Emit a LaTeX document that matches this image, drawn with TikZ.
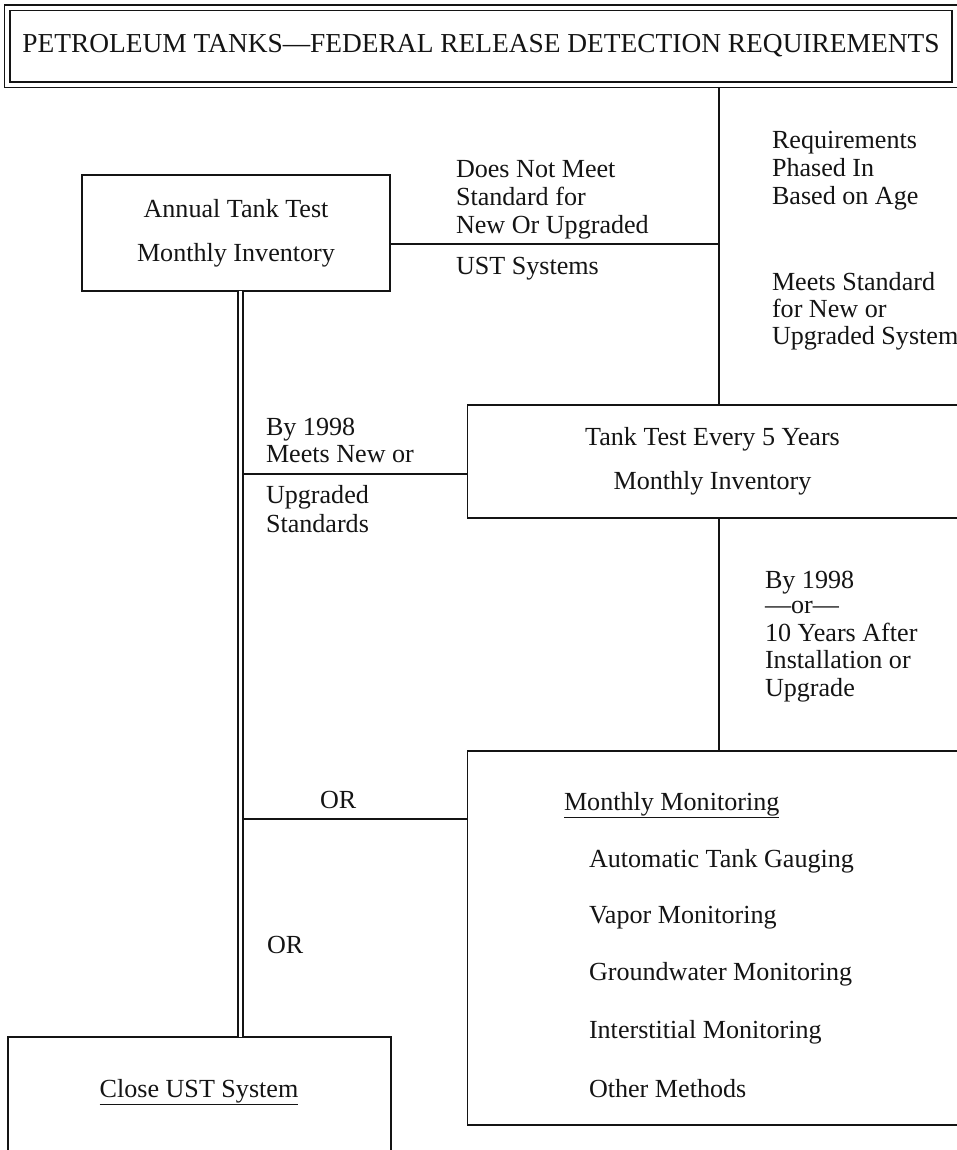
\documentclass[tikz,border=0pt]{standalone}
\usepackage{fontspec}
\setmainfont{Liberation Serif}
\usetikzlibrary{calc}
\definecolor{ink}{HTML}{141414}
\newcommand{\bodyfont}{\fontsize{26.2}{28}\selectfont}
\newcommand{\boxfont}{\fontsize{26.2}{44}\selectfont}
\newcommand{\titlefont}{\fontsize{27.5}{30}\selectfont}
\tikzset{
  every node/.style={font=\bodyfont,text=ink,inner sep=0pt,outer sep=0pt},
  panel/.style={draw=ink,line width=1.8bp,rectangle},
  frame/.style={draw=ink,double,double distance=4bp,line width=1.6bp},
  link/.style={draw=ink,line width=1.8bp},
  twin/.style={draw=ink,double,double distance=3.5bp,line width=1.4bp},
  note/.style={anchor=base west},
  boxtext/.style={align=center,font=\boxfont}
}

\begin{document}
\begin{tikzpicture}[x=1bp,y=-1bp]

\path[use as bounding box] (0,0) rectangle (957,1150);
% Header frame and the four boxes; right-hand boxes run off the page.
\node[frame,minimum width=947bp,minimum height=77bp,font=\titlefont] (title) at (481,46) {PETROLEUM TANKS—FEDERAL RELEASE DETECTION REQUIREMENTS};
\node[panel,boxtext,minimum width=308bp,minimum height=116bp] (annual) at (236,233) {Annual Tank Test\\Monthly Inventory};
\node[panel,boxtext,minimum width=490bp,minimum height=113bp] (tank) at (712.5,461.5) {Tank Test Every 5 Years\\Monthly Inventory};
\node[panel,minimum width=490bp,minimum height=374bp] (monitor) at (712.5,938) {};
\node[panel,minimum width=383bp,minimum height=140bp] (close) at (199.5,1107) {};

\coordinate (upper) at (719,244);
\coordinate (middle) at (240.5,474);
\coordinate (lower) at (240.5,819);

\draw[link] ($(title.south -| upper)+(0,3.5)$) -- (tank.north -| upper);
\draw[link] (annual.east |- upper) -- (upper);
\draw[link] (tank.south -| upper) -- (monitor.north -| upper);
\draw[link] (middle) -- (tank.west |- middle);
\draw[link] (lower) -- (monitor.west |- lower);
% The double line is drawn last so that it cuts the branches.
\draw[twin] (annual.south -| middle) -- (close.north -| middle);

\foreach \name/\y/\words in {dn1/177/Does Not Meet,dn2/205/Standard for,dn3/233/New Or Upgraded,dn4/274/UST Systems}
  \node[note] (\name) at (456,\y) {\words};
\foreach \name/\y/\words in {ph1/148/Requirements,ph2/176/Phased In,ph3/204/Based on Age,ms1/290/Meets Standard,ms2/317/for New or,ms3/344/Upgraded System}
  \node[note] (\name) at (772,\y) {\words};
\foreach \name/\y/\words in {by1/435/By 1998,by2/462/Meets New or,by3/503/Upgraded,by4/532/Standards}
  \node[note] (\name) at (266,\y) {\words};
\foreach \name/\y/\words in {yr1/588/By 1998,yr2/613/—or—,yr3/641/10 Years After,yr4/668/Installation or,yr5/696/Upgrade}
  \node[note] (\name) at (765,\y) {\words};

\node[note] (or1) at (320,808) {OR};
\node[note] (or2) at (267,953) {OR};

\node[note] (mmhead) at (564,810) {\underline{Monthly Monitoring}};
\foreach \name/\y/\words in {atg/867/Automatic Tank Gauging,vapor/923/Vapor Monitoring,ground/980/Groundwater Monitoring,inter/1038/Interstitial Monitoring,other/1097/Other Methods}
  \node[note] (\name) at (589,\y) {\words};
\node[anchor=base] (closetext) at (199,1097) {\underline{Close UST System}};
\end{tikzpicture}
\end{document}
